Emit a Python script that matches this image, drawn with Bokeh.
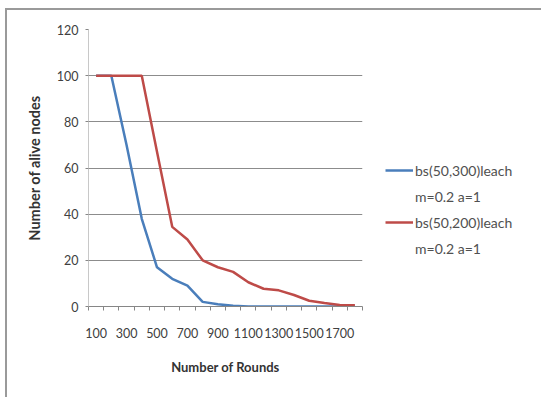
from bokeh.plotting import figure
from bokeh.models import (FixedTicker, Legend, LegendItem, Range1d)
from bokeh.embed import file_html
from bokeh.resources import INLINE

rounds = ["100", "200", "300", "400", "500", "600", "700", "800", "900", "1000",
          "1100", "1200", "1300", "1400", "1500", "1600", "1700", "1800"]
blue_vals = [100, 100, 70, 38, 17, 12, 9, 2, 1, 0.3, 0, 0, 0, 0, 0, 0, 0, 0]
red_vals = [100, 100, 100, 100, 67, 34.5, 29, 20, 17, 15, 10.5, 7.7, 7, 5, 2.5, 1.5, 0.7, 0.5]
blue_label = ["bs(50,300)leach", "m=0.2 a=1"]
red_label = ["bs(50,200)leach", "m=0.2 a=1"]
y_ticks = [0, 20, 40, 60, 80, 100, 120]

FONT = "Lato"
idx = list(range(len(rounds)))

# page offset for the chart-area border (left 7px, top 10px)
OFF_X, OFF_Y = 7, 10

p = figure(frame_width=274, frame_height=277, output_backend="svg", toolbar_location=None,
           x_range=Range1d(-0.5, len(rounds) - 0.5), y_range=Range1d(0, 120),
           min_border_left=88 - OFF_X, min_border_right=179, min_border_top=29 - OFF_Y,
           min_border_bottom=92 - 1)
p.styles = {"margin-left": "5px", "margin-top": "8px",
            "border-left": "2px solid #9a9a9a", "border-top": "2px solid #9a9a9a"}
p.background_fill_color = "white"
p.border_fill_color = "white"
p.outline_line_color = None

bl = p.line(idx, blue_vals, line_color="#4a7ebb", line_width=2.5)
rl = p.line(idx, red_vals, line_color="#be4b48", line_width=2.5)
d1 = p.line([0], [0], line_alpha=0)
d2 = p.line([0], [0], line_alpha=0)

# x axis
p.xaxis.ticker = FixedTicker(ticks=[i for i in idx if i % 2 == 0],
                             minor_ticks=[i - 0.5 for i in range(len(rounds) + 1)])
p.xaxis.major_label_overrides = {i: rounds[i] for i in idx if i % 2 == 0}
p.xaxis.major_tick_line_color = None
p.xaxis.minor_tick_out = 4
p.xaxis.minor_tick_in = 0
p.xaxis.minor_tick_line_color = "#868686"
p.xaxis.axis_line_color = "#868686"
p.xaxis.major_label_standoff = 15
p.xaxis.axis_label = "Number of Rounds"
p.xaxis.axis_label_standoff = 18

# y axis
p.yaxis.ticker = FixedTicker(ticks=y_ticks)
p.yaxis.minor_tick_line_color = None
p.yaxis.major_tick_out = 3
p.yaxis.major_tick_in = 0
p.yaxis.major_tick_line_color = "#868686"
p.yaxis.axis_line_color = "#c8c8c8"
p.yaxis.major_label_standoff = 7
p.yaxis.axis_label = "Number of alive nodes"
p.yaxis.axis_label_standoff = 11

for ax in (p.xaxis, p.yaxis):
    ax.major_label_text_font = FONT
    ax.major_label_text_font_size = "12.5px"
    ax.major_label_text_color = "#404040"
    ax.axis_label_text_font = FONT
    ax.axis_label_text_font_size = "13px"
    ax.axis_label_text_font_style = "bold"
    ax.axis_label_text_color = "#333333"
p.yaxis.axis_label_text_font_size = "14.5px"

p.xgrid.grid_line_color = None
p.ygrid.grid_line_color = "#8c8c8c"
p.ygrid.grid_line_width = 1

legend = Legend(items=[
    LegendItem(label=blue_label[0], renderers=[bl]),
    LegendItem(label=blue_label[1], renderers=[d1]),
    LegendItem(label=red_label[0], renderers=[rl]),
    LegendItem(label=red_label[1], renderers=[d2]),
], location=(23, 48))
legend.border_line_color = None
legend.background_fill_alpha = 0
legend.padding = 0
legend.margin = 0
legend.spacing = 6
legend.glyph_width = 28
legend.glyph_height = 20
legend.label_height = 20
legend.label_standoff = 2
legend.label_text_font = FONT
legend.label_text_font_size = "14px"
legend.label_text_color = "#505050"
p.add_layout(legend, "right")

open("out.html", "w").write(file_html(p, INLINE))
